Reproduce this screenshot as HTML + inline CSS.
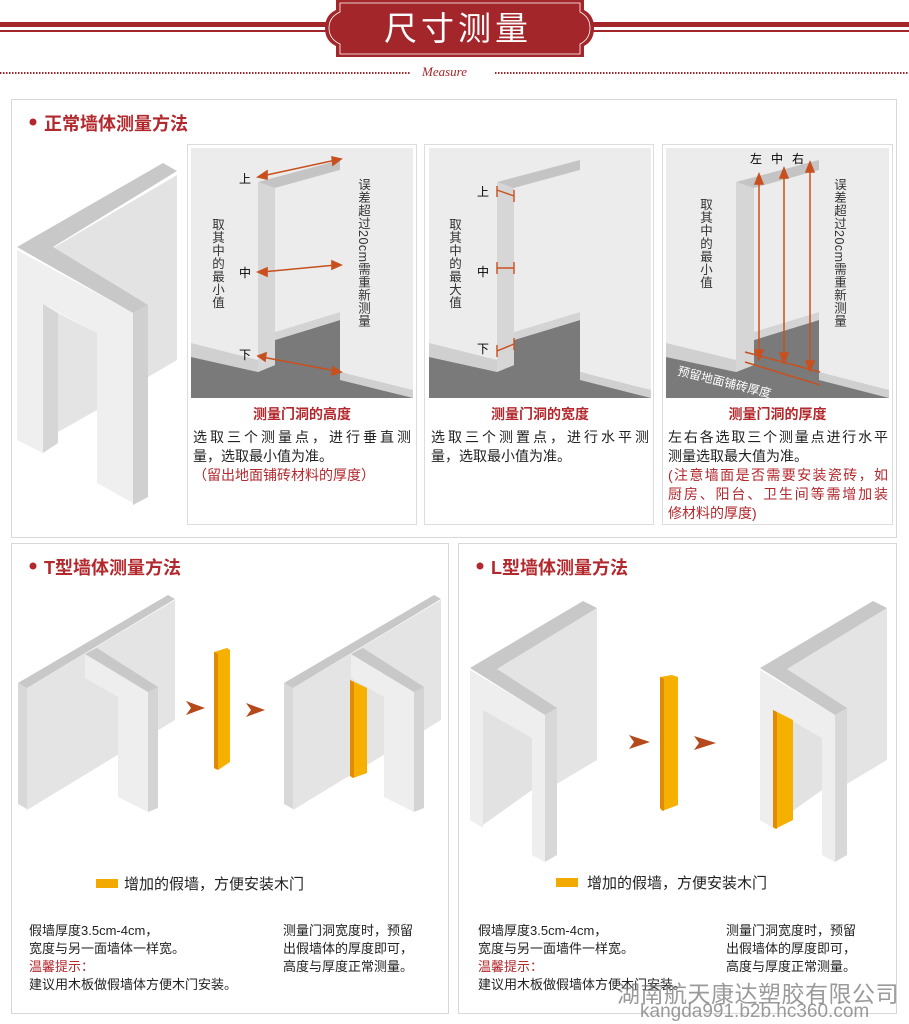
<!DOCTYPE html>
<html><head><meta charset="utf-8"><style>
body{margin:0;width:909px;height:1024px;overflow:hidden;background:#fff;position:relative;font-family:"Liberation Sans","Noto Sans CJK SC",sans-serif;}
.a{position:absolute;white-space:nowrap;}
.v{position:absolute;writing-mode:vertical-rl;font-size:12.5px;color:#333;letter-spacing:0.5px;line-height:13px;}
.t{font-size:14px;color:#222;line-height:19px;}
.r{color:#b3282d;}
.h{font-weight:bold;color:#b3282d;font-size:18px;}
.cap{font-weight:bold;color:#b3282d;font-size:14px;text-align:center;}
.j{text-align:justify;text-align-last:justify;}
</style></head><body>
<svg width="909" height="1024" style="position:absolute;left:0;top:0">
<rect x="0" y="22" width="330" height="5" fill="#a3262a"/><rect x="0" y="30" width="330" height="2" fill="#a3262a"/>
<rect x="585" y="22" width="324" height="5" fill="#a3262a"/><rect x="585" y="30" width="324" height="2" fill="#a3262a"/>
<path d="M336 0 H584 V10 Q594 15 594 28 Q594 41 584 46 V57 H336 V46 Q325 41 325 28 Q325 15 336 10 Z" fill="#a3262a"/>
<path d="M340 3 H580 V12 Q590 17 590 28 Q590 39 580 44 V54 H340 V44 Q329 39 329 28 Q329 17 340 12 Z" fill="none" stroke="#fff" stroke-width="0.8"/>
<line x1="0" y1="73" x2="410" y2="73" stroke="#a3262a" stroke-width="2" stroke-dasharray="1.5 1.5"/>
<line x1="495" y1="73" x2="909" y2="73" stroke="#a3262a" stroke-width="2" stroke-dasharray="1.5 1.5"/>
<rect x="11.5" y="99.5" width="885" height="438" fill="none" stroke="#d8d8d8"/>
<rect x="11.5" y="543.5" width="437" height="470" fill="none" stroke="#d8d8d8"/>
<rect x="458.5" y="543.5" width="438" height="470" fill="none" stroke="#d8d8d8"/>
<rect x="187.5" y="144.5" width="229" height="380" fill="none" stroke="#ddd"/>
<rect x="424.5" y="144.5" width="229" height="380" fill="none" stroke="#ddd"/>
<rect x="662.5" y="144.5" width="230" height="380" fill="none" stroke="#ddd"/>
<circle cx="33" cy="122" r="3.5" fill="#b3282d"/>
<circle cx="33" cy="566" r="3.5" fill="#b3282d"/>
<circle cx="480" cy="566" r="3.5" fill="#b3282d"/>
<polygon points="53,248 177,175 177,360 148,377 148,305" fill="#e3e3e3"/>
<polygon points="17,250 133,313 133,503 97,483 97,333 43,304 43,453 17,440" fill="#efefef"/>
<polygon points="43,304 58,313 58,443 43,453" fill="#d6d6d6"/>
<polygon points="58,313 97,333 97,410 58,432" fill="#e4e4e4"/>
<polygon points="133,313 148,305 148,497 133,505" fill="#d0d0d0"/>
<polygon points="17,247 163,163 177,171 53,247 148,305 133,313" fill="#c8c8c8"/>
<g>
<rect x="191" y="148" width="222" height="250" fill="#ececec"/>
<polygon points="191,343 258,360 258,372 191,357" fill="#d0d0d0"/>
<polygon points="191,357 258,372 275,365 275,340 340,320 340,372 413,392 413,398 191,398" fill="#7a7a7a"/>
<polygon points="275,332 340,312 340,320 275,340" fill="#d4d4d4"/>
<polygon points="340,372 413,390 413,398 340,380" fill="#d0d0d0"/>
<polygon points="258,182 275,188 275,365 258,372" fill="#d6d6d6"/>
<polygon points="258,182 340,160 340,170 275,188" fill="#c4c4c4"/>
<polygon points="275,188 340,170 340,312 275,332" fill="#ececec"/>
<g stroke="#c8501e" stroke-width="1.6" fill="#c8501e">
<line x1="262" y1="176" x2="336" y2="160"/><polygon points="258,177 267,171 267,179"/><polygon points="341,159 332,157 333,165"/>
<line x1="262" y1="272" x2="336" y2="265"/><polygon points="258,272 267,268 267,276"/><polygon points="341,265 332,261 332,269"/>
<line x1="262" y1="357" x2="336" y2="371"/><polygon points="258,356 266,353 265,361"/><polygon points="341,372 333,367 332,375"/>
</g>
</g>
<g>
<rect x="429" y="148" width="222" height="250" fill="#ececec"/>
<polygon points="429,343 497,360 497,372 429,357" fill="#d0d0d0"/>
<polygon points="429,357 497,372 514,365 514,340 580,320 580,372 651,392 651,398 429,398" fill="#7a7a7a"/>
<polygon points="514,332 580,312 580,320 514,340" fill="#d4d4d4"/>
<polygon points="580,372 651,390 651,398 580,380" fill="#d0d0d0"/>
<polygon points="497,182 514,188 514,365 497,372" fill="#d6d6d6"/>
<polygon points="497,182 580,160 580,170 514,188" fill="#c4c4c4"/>
<polygon points="514,188 580,170 580,312 514,332" fill="#ececec"/>
<g stroke="#c8501e" stroke-width="1.4">
<line x1="497" y1="190" x2="514" y2="196"/><line x1="497" y1="186" x2="497" y2="197"/><line x1="514" y1="190" x2="514" y2="202"/>
<line x1="497" y1="268" x2="514" y2="268"/><line x1="497" y1="262" x2="497" y2="274"/><line x1="514" y1="262" x2="514" y2="274"/>
<line x1="497" y1="351" x2="514" y2="344"/><line x1="497" y1="345" x2="497" y2="357"/><line x1="514" y1="338" x2="514" y2="350"/>
</g>
</g>
<g>
<rect x="666" y="148" width="223" height="250" fill="#ececec"/>
<polygon points="666,343 736,360 736,372 666,357" fill="#d0d0d0"/>
<polygon points="666,357 736,372 754,365 754,340 819,320 819,372 889,392 889,398 666,398" fill="#7a7a7a"/>
<polygon points="754,332 819,312 819,320 754,340" fill="#d4d4d4"/>
<polygon points="819,372 889,390 889,398 819,380" fill="#d0d0d0"/>
<polygon points="736,182 754,188 754,365 736,372" fill="#d6d6d6"/>
<polygon points="736,182 819,160 819,170 754,188" fill="#c4c4c4"/>
<polygon points="754,188 819,170 819,312 754,332" fill="#ececec"/>
<g stroke="#c8501e" stroke-width="1.5" fill="#c8501e">
<line x1="759" y1="180" x2="759" y2="355"/><polygon points="759,174 755,184 763,184"/><polygon points="759,360 755,350 763,350"/>
<line x1="784" y1="174" x2="784" y2="358"/><polygon points="784,168 780,178 788,178"/><polygon points="784,363 780,353 788,353"/>
<line x1="810" y1="168" x2="810" y2="366"/><polygon points="810,162 806,172 814,172"/><polygon points="810,371 806,361 814,361"/>
<line x1="745" y1="352" x2="820" y2="372"/><line x1="745" y1="362" x2="820" y2="385"/>
</g>
</g>
<g>
<polygon points="27,688 175,600 175,720 27,810" fill="#e4e4e4"/>
<polygon points="18,683 27,688 27,809 18,804" fill="#d8d8d8"/>
<polygon points="18,683 168,595 175,599 27,688" fill="#c8c8c8"/>
<polygon points="85,654 148,692 148,812 118,797 118,697 85,678" fill="#eeeeee"/>
<polygon points="148,692 158,687 158,808 148,812" fill="#d4d4d4"/>
<polygon points="85,654 97,648 158,687 148,692" fill="#c8c8c8"/>
</g>
<g fill="#b5491c"><polygon points="186,701 205,708 186,715 191,708"/><polygon points="246,703 265,710 246,717 251,710"/></g>
<polygon points="214,652 227,648 230,650 230,762 218,770 214,768" fill="#f5b000"/><polygon points="214,652 218,654 218,770 214,768" fill="#e08a08"/>
<g transform="translate(266,0)">
<polygon points="27,688 175,600 175,720 27,810" fill="#e4e4e4"/>
<polygon points="18,683 27,688 27,809 18,804" fill="#d8d8d8"/>
<polygon points="18,683 168,595 175,599 27,688" fill="#c8c8c8"/>
<polygon points="85,654 148,692 148,812 118,797 118,697 85,678" fill="#eeeeee"/>
<polygon points="148,692 158,687 158,808 148,812" fill="#d4d4d4"/>
<polygon points="85,654 97,648 158,687 148,692" fill="#c8c8c8"/>
</g>
<polygon points="350,680 367,688 367,773 353,778 350,776" fill="#f5b000"/><polygon points="350,680 354,682 354,778 350,776" fill="#e08a08"/>
<g>
<polygon points="497,669 597,608 597,760 555,785 555,708" fill="#e4e4e4"/>
<polygon points="470,670 545,715 545,862 532,855 532,738 483,710 483,828 470,820" fill="#eeeeee"/>
<polygon points="483,710 532,738 532,790 483,825" fill="#e2e2e2"/>
<polygon points="545,715 557,708 557,855 545,862" fill="#d8d8d8"/>
<polygon points="470,668 583,601 597,608 497,669 557,708 545,715" fill="#c8c8c8"/>
</g>
<g fill="#b5491c"><polygon points="629,735 650,742 629,749 634,742"/><polygon points="694,736 716,743 694,750 699,743"/></g>
<polygon points="660,677 672,675 678,677 678,805 662,811 660,808" fill="#f5b000"/><polygon points="660,677 664,679 664,811 660,808" fill="#e08a08"/>
<g transform="translate(290,0)">
<polygon points="497,669 597,608 597,760 555,785 555,708" fill="#e4e4e4"/>
<polygon points="470,670 545,715 545,862 532,855 532,738 483,710 483,828 470,820" fill="#eeeeee"/>
<polygon points="483,710 532,738 532,790 483,825" fill="#e2e2e2"/>
<polygon points="545,715 557,708 557,855 545,862" fill="#d8d8d8"/>
<polygon points="470,668 583,601 597,608 497,669 557,708 545,715" fill="#c8c8c8"/>
</g>
<polygon points="773,710 793,720 793,820 775,829 773,827" fill="#f5b000"/><polygon points="773,710 777,712 777,829 773,827" fill="#e08a08"/>
<rect x="96" y="879" width="22" height="9" fill="#f2a900"/>
<rect x="556" y="878" width="22" height="9" fill="#f2a900"/>
</svg>
<div class="a" style="left:384px;top:9px;font-size:33px;color:#fff;letter-spacing:4px;line-height:40px">尺寸测量</div>
<div class="a" style="left:422px;top:64px;font-size:13px;color:#a3262a;font-style:italic;font-family:'Liberation Serif',serif">Measure</div>
<div class="a h" style="left:44px;top:110px">正常墙体测量方法</div>
<div class="a h" style="left:44px;top:554px">T型墙体测量方法</div>
<div class="a h" style="left:491px;top:554px">L型墙体测量方法</div>
<div class="a" style="left:239px;top:170px;font-size:12px">上</div>
<div class="a" style="left:239px;top:264px;font-size:12px">中</div>
<div class="a" style="left:239px;top:346px;font-size:12px">下</div>
<div class="v" style="left:210px;top:218px">取其中的最小值</div>
<div class="v" style="left:356px;top:178px">误差超过20cm需重新测量</div>
<div class="a" style="left:477px;top:183px;font-size:12px">上</div>
<div class="a" style="left:477px;top:263px;font-size:12px">中</div>
<div class="a" style="left:477px;top:340px;font-size:12px">下</div>
<div class="v" style="left:447px;top:218px">取其中的最大值</div>
<div class="a" style="left:750px;top:150px;font-size:12px;letter-spacing:9px">左中右</div>
<div class="v" style="left:698px;top:198px">取其中的最小值</div>
<div class="v" style="left:832px;top:178px">误差超过20cm需重新测量</div>
<div class="a" style="left:680px;top:362px;font-size:12px;color:#fff;transform:rotate(14deg);transform-origin:0 0">预留地面铺砖厚度</div>
<div class="a cap" style="left:191px;top:404px;width:222px">测量门洞的高度</div>
<div class="a cap" style="left:429px;top:404px;width:222px">测量门洞的宽度</div>
<div class="a cap" style="left:666px;top:404px;width:223px">测量门洞的厚度</div>
<div class="a t" style="left:193px;top:428px;width:218px;white-space:normal">
<div class="j">选取三个测量点，进行垂直测</div><div>量，选取最小值为准。</div><div class="r">（留出地面铺砖材料的厚度）</div></div>
<div class="a t" style="left:431px;top:428px;width:218px;white-space:normal">
<div class="j">选取三个测置点，进行水平测</div><div>量，选取最小值为准。</div></div>
<div class="a t" style="left:668px;top:428px;width:220px;white-space:normal">
<div class="j">左右各选取三个测量点进行水平</div><div>测量选取最大值为准。</div><div class="r j">(注意墙面是否需要安装瓷砖，如</div><div class="r j">厨房、阳台、卫生间等需增加装</div><div class="r">修材料的厚度)</div></div>
<div class="a" style="left:124px;top:873px;font-size:15px;color:#222">增加的假墙，方便安装木门</div>
<div class="a" style="left:587px;top:872px;font-size:15px;color:#222">增加的假墙，方便安装木门</div>
<div class="a t" style="left:29px;top:922px;line-height:18px;font-size:13px">假墙厚度3.5cm-4cm，<br>宽度与另一面墙体一样宽。<br><span class="r">温馨提示：</span><br>建议用木板做假墙体方便木门安装。</div>
<div class="a t" style="left:283px;top:922px;line-height:18px;font-size:13px">测量门洞宽度时，预留<br>出假墙体的厚度即可，<br>高度与厚度正常测量。</div>
<div class="a t" style="left:478px;top:922px;line-height:18px;font-size:13px">假墙厚度3.5cm-4cm，<br>宽度与另一面墙件一样宽。<br><span class="r">温馨提示：</span><br>建议用木板做假墙体方便木门安装。</div>
<div class="a t" style="left:726px;top:922px;line-height:18px;font-size:13px">测量门洞宽度时，预留<br>出假墙体的厚度即可，<br>高度与厚度正常测量。</div>
<div class="a" style="left:617px;top:975px;font-size:23px;color:rgba(120,120,120,0.75);letter-spacing:0.5px">湖南航天康达塑胶有限公司</div>
<div class="a" style="left:640px;top:1001px;font-size:19px;color:rgba(120,120,120,0.75)">kangda991.b2b.hc360.com</div>
</body></html>
